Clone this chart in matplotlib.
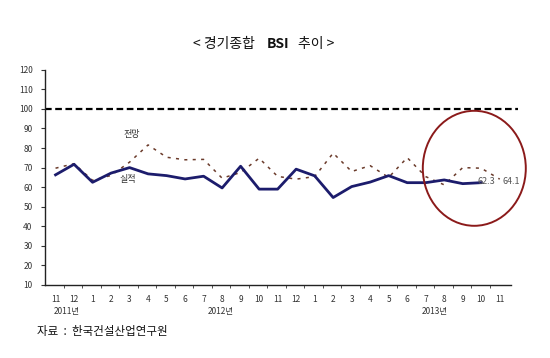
import matplotlib
matplotlib.use("Agg")
import matplotlib.pyplot as plt
from matplotlib.patches import Ellipse

plt.rcParams["font.family"] = ["Noto Sans CJK KR", "DejaVu Sans"]

months = ["11", "12", "1", "2", "3", "4", "5", "6", "7", "8", "9", "10", "11", "12",
          "1", "2", "3", "4", "5", "6", "7", "8", "9", "10", "11"]
years = ["2011년", "2012년", "2013년"]
year_pos = [0.6, 8.9, 20.5]

# 실적 (actual) - ends at Oct 2013
actual = [66.3, 71.7, 62.5, 67.2, 70.0, 66.8, 65.9, 64.2, 65.6, 59.6, 70.7, 59.0, 59.0,
          69.2, 65.8, 54.7, 60.3, 62.6, 65.9, 62.3, 62.3, 63.7, 61.8, 62.3]
# 전망 (forecast) - ends at Nov 2013
forecast = [69.7, 72.0, 63.5, 66.0, 72.8, 81.6, 75.3, 74.0, 74.2, 64.6, 67.5, 74.8, 65.5,
            64.1, 65.4, 77.4, 68.0, 71.0, 65.0, 75.1, 65.4, 61.2, 70.0, 69.7, 64.1]

fig = plt.figure(figsize=(5.5, 3.58), dpi=100)
ax = fig.add_axes([0.0818, 0.204, 0.848, 0.601])

ax.plot(range(len(forecast)), forecast, color="#6b3b2b", lw=1.1, linestyle=(0, (2, 3.5)))
ax.plot(range(len(actual)), actual, color="#1c1c6c", lw=2.0)

# reference line at 100
ax.plot([-0.57, 25.0], [100, 100], color="black", lw=1.6, linestyle=(0, (3, 1.6)), clip_on=False)

ax.set_xlim(-0.57, 24.63)
ax.set_ylim(10, 120)
ax.set_yticks(range(10, 121, 10))
ax.set_xticks(range(len(months)))
ax.set_xticklabels(months)
ax.set_xticks([i + 0.45 for i in range(len(months) - 1)], minor=True)
ax.tick_params(axis="x", which="major", length=0, pad=7, labelsize=6, colors="#333333")
ax.tick_params(axis="x", which="minor", length=2.5, direction="out", color="#333333")
ax.tick_params(axis="y", length=3, direction="out", labelsize=6, colors="#333333", pad=6)
for s in ["top", "right"]:
    ax.spines[s].set_visible(False)
for s in ["left", "bottom"]:
    ax.spines[s].set_color("#222222")
    ax.spines[s].set_linewidth(1.0)

for yr, xp in zip(years, year_pos):
    ax.text(xp, -0.125, yr, transform=ax.get_xaxis_transform(), ha="center", va="center",
            fontsize=6, color="#333333")

ax.text(4.1, 86.7, "전망", ha="center", va="center", fontsize=6.5, color="#333333")
ax.text(3.9, 63.7, "실적", ha="center", va="center", fontsize=6.5, color="#333333")

ax.text(23.3, 63.0, "62.3", ha="center", va="center", fontsize=6.5, color="#555555")
ax.text(24.6, 63.0, "64.1", ha="center", va="center", fontsize=6.5, color="#555555",
        clip_on=False)

# red highlight ellipse
ell = Ellipse((474.3 / 550, 1 - 168.3 / 358), 103 / 550, 115 / 358, transform=fig.transFigure,
              fill=False, edgecolor="#8b1a1a", lw=1.4)
fig.add_artist(ell)

# title, BSI in bold
title_y = 1 - 44 / 358
fig.text(193 / 550, title_y, "< 경기종합", fontsize=10, va="center", color="#111111")
fig.text(267 / 550, title_y, "BSI", fontsize=10, fontweight="bold", va="center", color="#111111")
fig.text(298 / 550, title_y, "추이 >", fontsize=10, va="center", color="#111111")

fig.text(37 / 550, 1 - 331 / 358, "자료  :  한국건설산업연구원", fontsize=8.3, va="center",
         color="#111111")

fig.savefig("out.png", dpi=100)
